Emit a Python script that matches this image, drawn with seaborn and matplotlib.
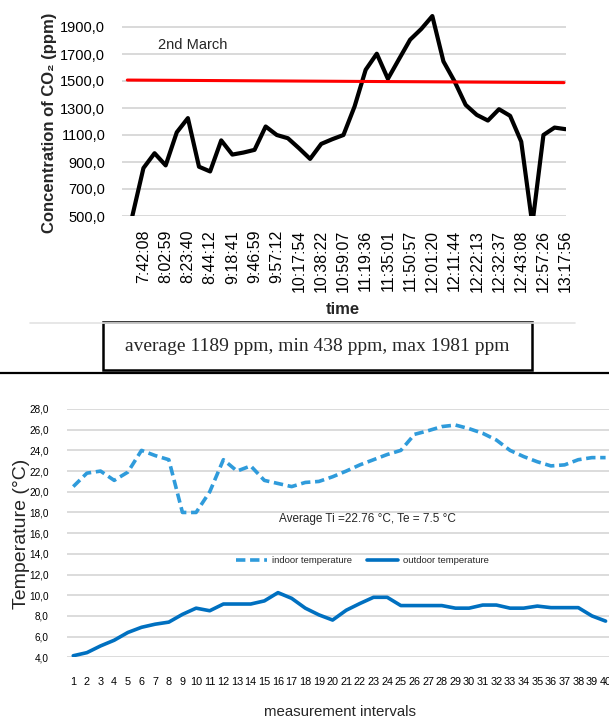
import matplotlib
matplotlib.use("Agg")
import matplotlib.pyplot as plt
import seaborn as sns
import pandas as pd
from matplotlib.lines import Line2D
from matplotlib.patches import Rectangle

# ---------------- data ----------------
time_labels = ["7:42:08", "8:02:59", "8:23:40", "8:44:12", "9:18:41", "9:46:59",
               "9:57:12", "10:17:54", "10:38:22", "10:59:07", "11:19:36", "11:35:01",
               "11:50:57", "12:01:20", "12:11:44", "12:22:13", "12:32:37", "12:43:08",
               "12:57:26", "13:17:56"]
co2_ppm = [500, 855, 965, 875, 1120, 1225, 865, 830, 1060, 955,
           970, 990, 1163, 1100, 1076, 1002, 923, 1034, 1069, 1100,
           1311, 1583, 1702, 1516, 1662, 1806, 1885, 1981, 1645, 1497,
           1323, 1249, 1207, 1291, 1242, 1051, 438, 1100, 1155, 1143]
limit_ppm = [1507, 1488]          # hand-drawn 1500 ppm limit line (start, end)
co2_ticks = [500, 700, 900, 1100, 1300, 1500, 1700, 1900]

intervals = list(range(1, 41))
indoor_temp = [20.5, 21.8, 22.0, 21.1, 21.9, 24.0, 23.5, 23.1, 18.0, 18.0,
               20.0, 23.1, 22.0, 22.5, 21.1, 20.8, 20.5, 20.9, 21.0, 21.45,
               22.0, 22.6, 23.1, 23.6, 24.0, 25.55, 25.9, 26.3, 26.45, 26.1,
               25.65, 25.0, 24.0, 23.4, 22.9, 22.5, 22.6, 23.1, 23.3, 23.3]
outdoor_temp = [4.15, 4.45, 5.1, 5.65, 6.4, 6.9, 7.2, 7.4, 8.15, 8.75,
                8.5, 9.15, 9.15, 9.15, 9.45, 10.25, 9.7, 8.75, 8.1, 7.6,
                8.55, 9.2, 9.8, 9.8, 9.0, 9.0, 9.0, 9.0, 8.75, 8.75,
                9.05, 9.05, 8.75, 8.75, 8.95, 8.8, 8.8, 8.8, 8.0, 7.5]
temp_ticks = [4, 6, 8, 10, 12, 14, 16, 18, 20, 22, 24, 26, 28]

co2_text = "average 1189 ppm, min 438 ppm, max 1981 ppm"
temp_text = "Average Ti =22.76 \u00b0C, Te = 7.5 \u00b0C"

# ---------------- style ----------------
sns.set_theme(style="white")
SANS = ["Liberation Sans", "DejaVu Sans"]
SERIF = ["Liberation Serif", "DejaVu Serif"]
plt.rcParams["font.family"] = SANS
GRID = "#d9d9d9"

W, H = 609, 724
fig = plt.figure(figsize=(W / 100, H / 100), dpi=100)
fig.patch.set_facecolor("white")


def px_axes(left, top, right, bottom):
    return fig.add_axes([left / W, 1 - bottom / H, (right - left) / W, (bottom - top) / H])


# ---------------- top chart : CO2 ----------------
ax1 = px_axes(122, 13.5, 566, 216)
df_co2 = pd.DataFrame({"idx": range(len(co2_ppm)), "co2": co2_ppm})
for t in co2_ticks:
    ax1.axhline(t, color=GRID, lw=1.4, zorder=0)
sns.lineplot(data=df_co2, x="idx", y="co2", ax=ax1, color="black", lw=3.0, zorder=3)
df_lim = pd.DataFrame({"idx": [-0.45, len(co2_ppm) - 1.15], "lim": limit_ppm})
sns.lineplot(data=df_lim, x="idx", y="lim", ax=ax1, color="#ff0000", lw=2.2, zorder=4)
ax1.set_xlim(-0.93, len(co2_ppm) - 0.97)
ax1.set_ylim(500, 2000)
ax1.set_yticks(co2_ticks)
ax1.set_yticklabels([f"{v:.1f}".replace(".", ",") for v in co2_ticks], fontsize=10.5)
ax1.set_xticks(list(range(1, len(co2_ppm), 2)))
ax1.set_xticklabels(time_labels, rotation=90, fontsize=11.5, va="top")
ax1.tick_params(axis="both", length=0, colors="black")
ax1.tick_params(axis="y", pad=12)
ax1.tick_params(axis="x", pad=10)
for s in ax1.spines.values():
    s.set_visible(False)
ax1.set_xlabel("time", fontsize=12, fontweight="bold")
ax1.xaxis.label.set_va("center")
ax1.set_ylabel("Concentration of CO\u2082 (ppm)", fontsize=12, fontweight="bold")
ax1.yaxis.label.set_va("center")
ax1.yaxis.set_label_coords(-(122 - 50) / 444, (216 - 123) / 202.5)
ax1.xaxis.set_label_coords((343 - 122) / 444, -(310 - 216) / 202.5)
ax1.text(0.081, 0.844, "2nd March", transform=ax1.transAxes, fontsize=10.5,
         va="center", ha="left")

# separator lines and text box
fig.add_artist(Line2D([30 / W, 575 / W], [1 - 323 / H, 1 - 323 / H], color="#e3e3e3", lw=1.2))
fig.add_artist(Rectangle((103 / W, 1 - 370 / H), (532 - 103) / W, (370 - 322) / H,
                         fill=False, edgecolor="black", lw=1.8, transform=fig.transFigure))
fig.text(317.5 / W, 1 - 346 / H, co2_text, fontfamily=SERIF, fontsize=14,
         ha="center", va="center")
fig.add_artist(Line2D([0, 1], [1 - 373 / H, 1 - 373 / H], color="black", lw=1.6))

# ---------------- bottom chart : temperature ----------------
ax2 = px_axes(66.7, 409, 609, 657.3)
df_t = pd.DataFrame({"interval": intervals, "indoor": indoor_temp, "outdoor": outdoor_temp})
for t in temp_ticks:
    ax2.axhline(t, color=GRID, lw=1.3, zorder=0)
sns.lineplot(data=df_t, x="interval", y="indoor", ax=ax2, color="#2f9bdb", lw=2.6,
             linestyle=(0, (2.6, 1.3)), zorder=3, label="indoor temperature")
sns.lineplot(data=df_t, x="interval", y="outdoor", ax=ax2, color="#0070c0", lw=2.6,
             zorder=3, label="outdoor temperature")
ax2.set_xlim(0.52, 40.25)
ax2.set_ylim(4, 28)
ax2.set_yticks(temp_ticks)
ax2.set_yticklabels([f"{v:.1f}".replace(".", ",") for v in temp_ticks], fontsize=7.2)
ax2.set_xticks(intervals)
ax2.set_xticklabels([str(i) for i in intervals], fontsize=7.8)
ax2.tick_params(axis="both", length=0, colors="black")
ax2.tick_params(axis="y", pad=13)
ax2.tick_params(axis="x", pad=14)
for s in ax2.spines.values():
    s.set_visible(False)
ax2.set_xlabel("measurement intervals", fontsize=10.8)
ax2.xaxis.label.set_va("center")
ax2.set_ylabel("Temperature (\u00b0C)", fontsize=14)
ax2.yaxis.label.set_va("center")
ax2.yaxis.set_label_coords(-(66.7 - 22) / 542.3, (657.3 - 534) / 248.3)
ax2.xaxis.set_label_coords((340 - 66.7) / 542.3, -(712 - 657.3) / 248.3)
ax2.text(0.554, 0.557, temp_text, transform=ax2.transAxes, fontsize=8.5,
         ha="center", va="center")
ax2.legend(loc="center", bbox_to_anchor=(0.5446, 0.388), ncol=2, frameon=False,
           prop={"size": 6.8}, handlelength=3.3, handletextpad=0.5,
           columnspacing=1.6, borderpad=0)

fig.savefig("out.png", dpi=100, facecolor="white")
